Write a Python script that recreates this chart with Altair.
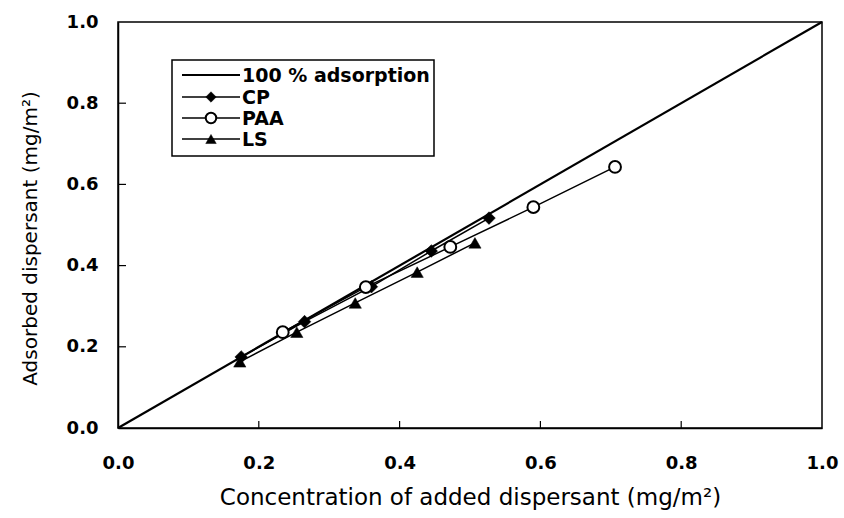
import altair as alt
import pandas as pd

# ---- data ----
cp_x = [0.175, 0.265, 0.360, 0.445, 0.527]
cp_y = [0.175, 0.262, 0.348, 0.436, 0.517]
paa_x = [0.234, 0.352, 0.472, 0.590, 0.706]
paa_y = [0.236, 0.347, 0.446, 0.544, 0.643]
ls_x = [0.173, 0.254, 0.337, 0.425, 0.507]
ls_y = [0.163, 0.236, 0.308, 0.384, 0.456]
ref_x = [0.0, 1.0]
ref_y = [0.0, 1.0]
tick_vals = [0.0, 0.2, 0.4, 0.6, 0.8, 1.0]
legend_labels = ["100 % adsorption", "CP", "PAA", "LS"]

W, H = 704, 406
FONT = "DejaVu Sans"

xs = alt.Scale(domain=[0, 1], nice=False, zero=False)
ys = alt.Scale(domain=[0, 1], nice=False, zero=False)

xaxis = alt.Axis(values=tick_vals, format=".1f", ticks=False, grid=False,
                 labelPadding=26, labelFlush=False,
                 title="Concentration of added dispersant (mg/m²)",
                 titleFontSize=23, titlePadding=14,
                 domainColor="black", domainWidth=1.5)
yaxis = alt.Axis(values=tick_vals, format=".1f", ticks=False, grid=False,
                 labelPadding=20, labelFlush=False,
                 title="Adsorbed dispersant (mg/m²)",
                 titleFontSize=20, titlePadding=26, titleY=216,
                 domainColor="black", domainWidth=1.5)

ref_df = pd.DataFrame({"x": ref_x, "y": ref_y})
ref_line = alt.Chart(ref_df).mark_line(color="black", strokeWidth=2.2).encode(
    x=alt.X("x:Q", scale=xs, axis=xaxis),
    y=alt.Y("y:Q", scale=ys, axis=yaxis),
)

def series(xv, yv, shape, filled, size):
    df = pd.DataFrame({"x": xv, "y": yv})
    base = alt.Chart(df).encode(
        x=alt.X("x:Q", scale=xs), y=alt.Y("y:Q", scale=ys))
    line = base.mark_line(color="black", strokeWidth=1.5)
    pts = base.mark_point(shape=shape, filled=True, size=size,
                          fill="black" if filled else "white",
                          stroke="black", strokeWidth=2 if not filled else 0.5,
                          opacity=1)
    return [line, pts]

layers = [ref_line]
layers += series(ls_x, ls_y, "triangle-up", True, 150)
layers += series(cp_x, cp_y, "diamond", True, 160)
layers += series(paa_x, paa_y, "circle", False, 140)

# inward ticks
tick_df = pd.DataFrame({"t": tick_vals[1:-1]})
xticks = alt.Chart(tick_df).mark_rule(color="black", strokeWidth=1.2).encode(
    x=alt.X("t:Q", scale=xs), y=alt.value(H), y2=alt.value(H - 7))
yticks = alt.Chart(tick_df).mark_rule(color="black", strokeWidth=1.2).encode(
    y=alt.Y("t:Q", scale=ys), x=alt.value(0), x2=alt.value(8))
layers += [xticks, yticks]

# legend (drawn as decoration)
box = alt.Chart(pd.DataFrame({"a": [0]})).mark_rect(
    fill="white", stroke="black", strokeWidth=1.5).encode(
    x=alt.value(54), x2=alt.value(316), y=alt.value(38), y2=alt.value(134))
layers.append(box)
row_y = [53, 75, 96, 117]
shapes = [None, ("diamond", True), ("circle", False), ("triangle-up", True)]
for lab, yy, shp in zip(legend_labels, row_y, shapes):
    d = pd.DataFrame({"label": [lab]})
    layers.append(alt.Chart(d).mark_rule(color="black", strokeWidth=1.5 if shp else 2.2).encode(
        x=alt.value(64), x2=alt.value(122), y=alt.value(yy)))
    if shp:
        s, f = shp
        layers.append(alt.Chart(d).mark_point(
            shape=s, filled=True, size=110, fill="black" if f else "white",
            stroke="black", strokeWidth=2 if not f else 0.5, opacity=1).encode(
            x=alt.value(93), y=alt.value(yy)))
    layers.append(alt.Chart(d).mark_text(
        align="left", baseline="middle", font=FONT, fontSize=19, fontWeight="bold",
        color="black").encode(x=alt.value(124), y=alt.value(yy + 1), text="label:N"))

chart = alt.layer(*layers).properties(
    width=W, height=H,
    padding={"left": 118, "top": 22, "right": 22, "bottom": 90},
    autosize=alt.AutoSizeParams(type="none"),
    background="white",
).configure_view(stroke="black", strokeWidth=1.5).configure_axis(
    labelFont=FONT, labelFontSize=18, labelFontWeight="bold", labelColor="black",
    titleFont=FONT, titleFontWeight="normal", titleColor="black",
)

chart.save("out.html", embed_options={"renderer": "svg", "actions": False})
